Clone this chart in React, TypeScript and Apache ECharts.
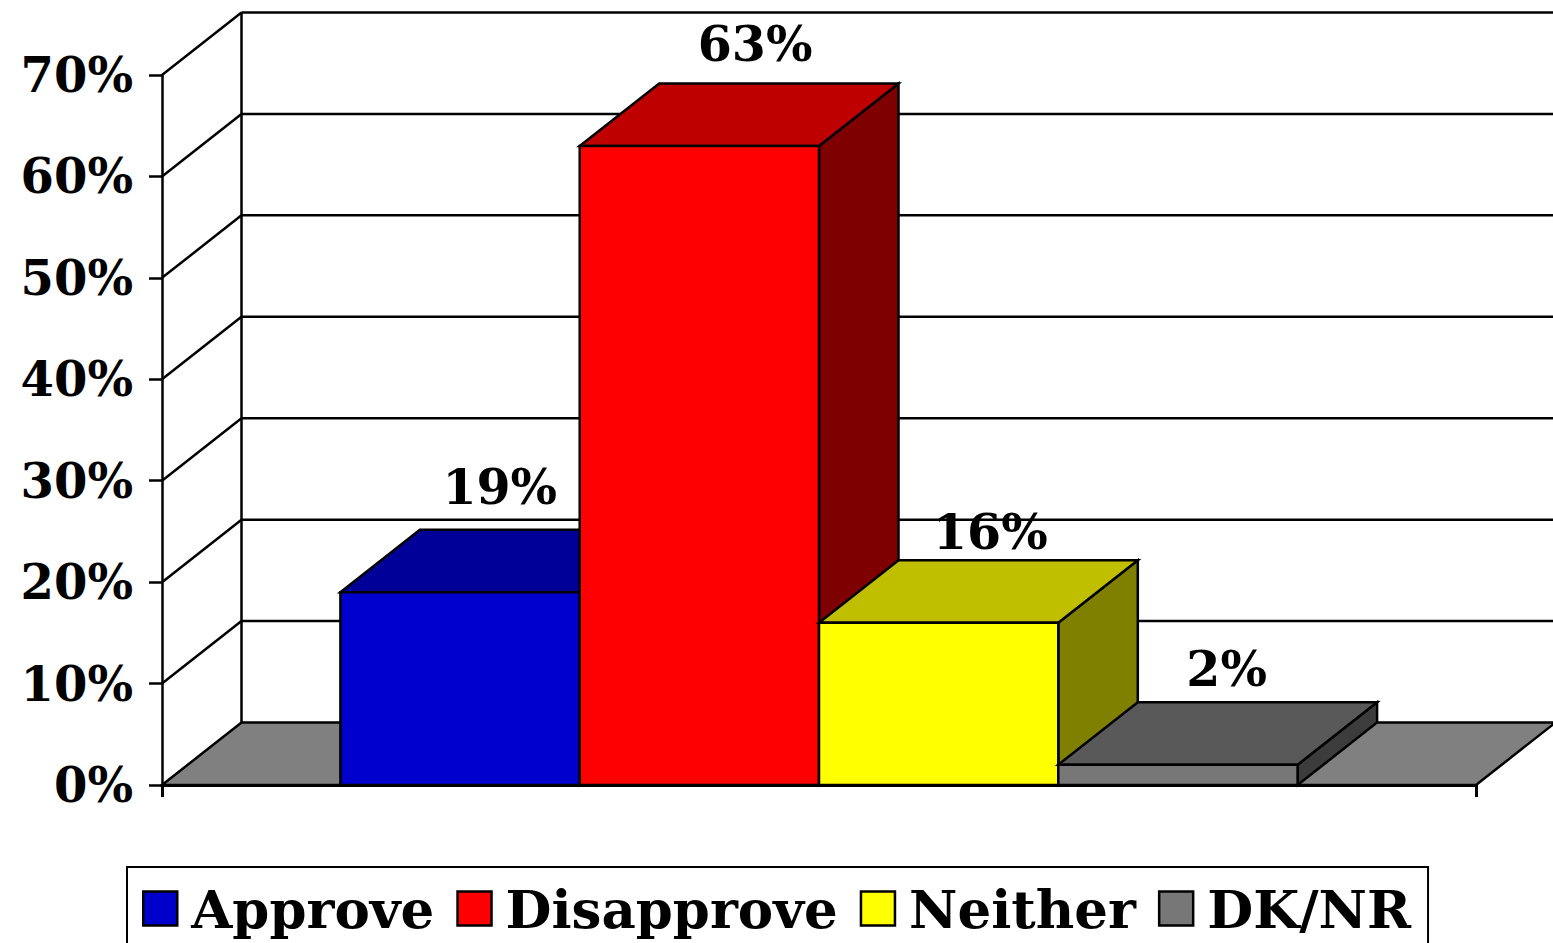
import React, { useEffect, useRef } from "react";
import * as echarts from "echarts";

const categories = [""];
const seriesNames = ["Approve", "Disapprove", "Neither", "DK/NR"];
const seriesValues = [19, 63, 16, 2];
const frontColors = ["#0000CC", "#FF0000", "#FFFF00", "#777777"];
const topColors = ["#000099", "#BF0000", "#BFBF00", "#595959"];
const sideColors = ["#00007F", "#7F0000", "#7F7F00", "#3C3C3C"];
const gridTicks = [0, 10, 20, 30, 40, 50, 60, 70];

const FONT = '"DejaVu Serif", serif';
const DX = 79.5;
const DY = 62.5;
const BAR_RATIO = 239.3 / 1314;
const STROKE = 2.5;
const labelRaise = [43, 40, 28, 33];
const labelShift = [0, 16, 12, 9];

function poly(points: number[][], fill: string) {
  return {
    type: "polygon",
    shape: { points },
    style: { fill, stroke: "#000", lineWidth: STROKE, lineJoin: "miter" },
  };
}

function line(x1: number, y1: number, x2: number, y2: number) {
  return {
    type: "line",
    shape: { x1, y1, x2, y2 },
    style: { stroke: "#000", lineWidth: STROKE, fill: "none" },
  };
}

const wallRender = (params: any, api: any) => {
  const cs = params.coordSys;
  const v = api.value(1);
  const y = api.coord([0, v])[1];
  const left = cs.x;
  const right = cs.x + cs.width;
  const children: any[] = [];
  if (v === 0) {
    children.push(
      poly(
        [
          [left, y],
          [left + DX, y - DY],
          [right + DX, y - DY],
          [right, y],
        ],
        "#808080",
      ),
    );
    children.push(line(left + DX, y - DY, left + DX, cs.y - DY));
  } else {
    children.push(line(left, y, left + DX, y - DY));
    children.push(line(left + DX, y - DY, right + DX, y - DY));
  }
  return { type: "group", children };
};

const barRender = (index: number) => (_params: any, api: any) => {
  const value = api.value(1);
  const [cx, top] = api.coord([0, value]);
  const base = api.coord([0, 0])[1];
  const w = api.size([1, 0])[0] * BAR_RATIO;
  const x0 = cx + (index - seriesValues.length / 2) * w;
  const x1 = x0 + w;
  return {
    type: "group",
    children: [
      poly(
        [
          [x1, base],
          [x1 + DX, base - DY],
          [x1 + DX, top - DY],
          [x1, top],
        ],
        sideColors[index],
      ),
      poly(
        [
          [x0, top],
          [x0 + DX, top - DY],
          [x1 + DX, top - DY],
          [x1, top],
        ],
        topColors[index],
      ),
      poly(
        [
          [x0, base],
          [x0, top],
          [x1, top],
          [x1, base],
        ],
        frontColors[index],
      ),
      {
        type: "text",
        z2: 50,
        style: {
          x: (x0 + x1) / 2 + DX / 2 + labelShift[index],
          y: top - DY - labelRaise[index],
          text: `${value}%`,
          font: `bold 49px ${FONT}`,
          fill: "#000",
          align: "center",
          verticalAlign: "middle",
        },
      },
    ],
  };
};

export default function App() {
  const ref = useRef<HTMLDivElement>(null);
  useEffect(() => {
    document.body.style.margin = "0";
    document.body.style.overflow = "hidden";
    const chart = echarts.init(ref.current!, null, { renderer: "svg" });
    chart.setOption({
      animation: false,
      backgroundColor: "#fff",
      grid: { left: 162, top: 75, width: 1314, height: 710, containLabel: false },
      xAxis: {
        type: "category",
        data: categories,
        z: 10,
        axisLine: { lineStyle: { color: "#000", width: 3 } },
        axisTick: { show: true, length: 12, lineStyle: { color: "#000", width: 3 } },
        axisLabel: { show: false },
        splitLine: { show: false },
      },
      yAxis: {
        type: "value",
        min: 0,
        max: 70,
        interval: 10,
        z: 10,
        axisLine: { show: true, lineStyle: { color: "#000", width: 2.5 } },
        axisTick: { show: true, length: 13, lineStyle: { color: "#000", width: 2.5 } },
        axisLabel: {
          formatter: "{value}%",
          margin: 29,
          color: "#000",
          fontFamily: FONT,
          fontWeight: "bold",
          fontSize: 48,
          padding: [4, 0, 0, 0],
        },
        splitLine: { show: false },
      },
      legend: {
        left: 127,
        top: 867,
        orient: "horizontal",
        padding: [15, 17, 30, 15],
        itemGap: 22,
        itemWidth: 34,
        itemHeight: 34,
        borderColor: "#000",
        borderWidth: 2,
        backgroundColor: "#fff",
        selectedMode: false,
        textStyle: {
          color: "#000",
          fontFamily: FONT,
          fontWeight: "bold",
          fontSize: 53,
          lineHeight: 34,
          padding: [0, 0, 0, 9],
        },
        data: seriesNames.map((name, i) => ({
          name,
          icon: "rect",
          itemStyle: { color: frontColors[i], borderColor: "#000", borderWidth: 2.5 },
        })),
      },
      series: [
        {
          type: "custom",
          name: "walls",
          silent: true,
          z: 1,
          renderItem: wallRender,
          encode: { x: 0, y: 1 },
          data: gridTicks.map((t) => [0, t]),
        },
        ...seriesNames.map((name, i) => ({
          type: "custom",
          name,
          silent: true,
          z: 2 + i,
          itemStyle: { color: frontColors[i] },
          renderItem: barRender(i),
          encode: { x: 0, y: 1 },
          data: [[0, seriesValues[i]]],
        })),
      ],
    });
    return () => chart.dispose();
  }, []);
  return <div ref={ref} style={{ width: 1553, height: 943 }} />;
}
